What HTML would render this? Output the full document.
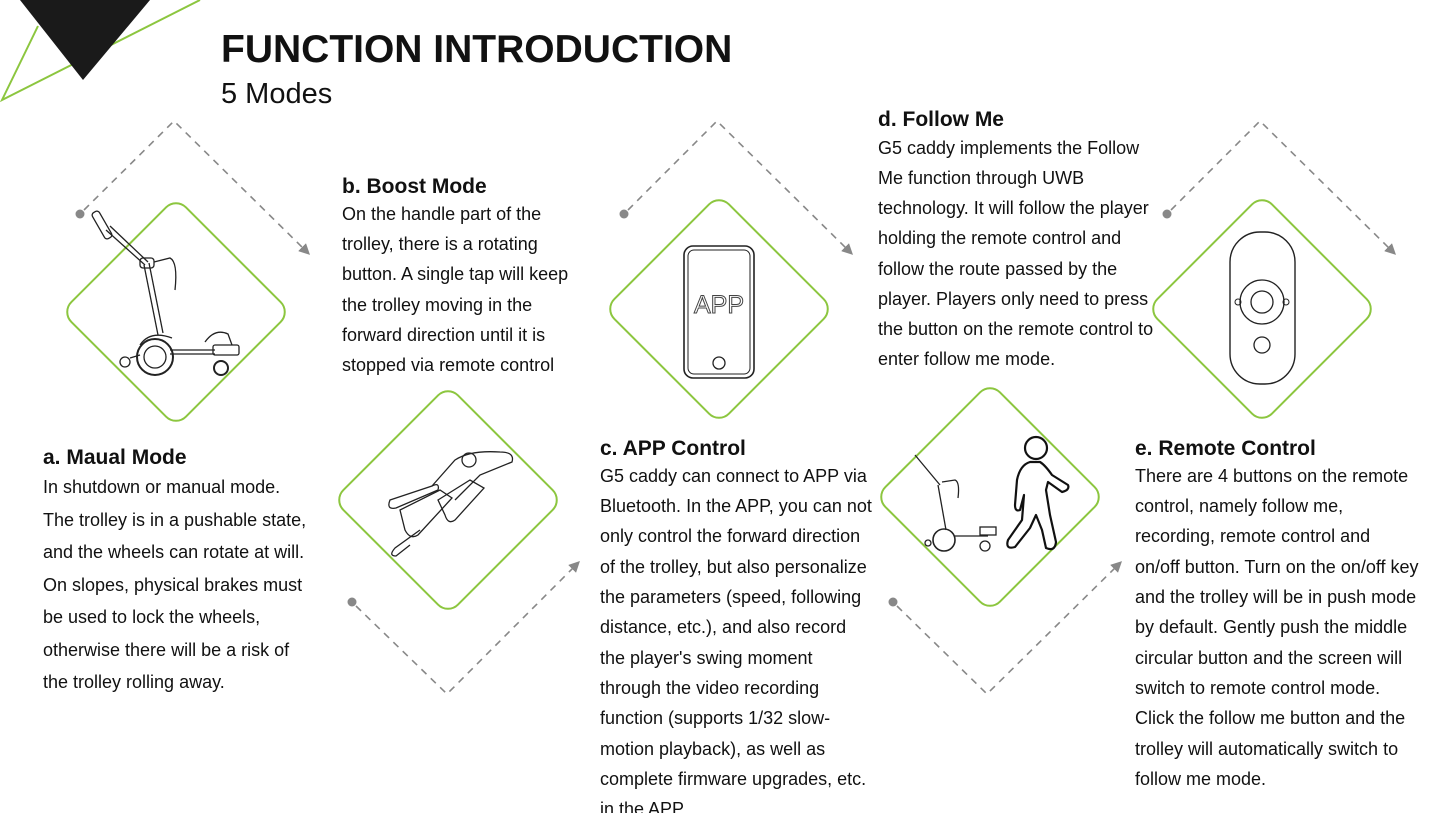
<!DOCTYPE html>
<html><head><meta charset="utf-8"><style>
html,body{margin:0;padding:0;background:#fff;}
svg{display:block;}
text{font-family:"Liberation Sans",Arial,sans-serif;fill:#111;}
.h{font-size:21px;font-weight:bold;}
.b{font-size:18px;}
.dg{fill:none;stroke:#8cc63f;stroke-width:2;}
.ds{fill:none;stroke:#888;stroke-width:1.6;stroke-dasharray:7 6;}
.ln{fill:none;stroke:#222;stroke-width:1.3;}
</style></head><body>
<svg width="1445" height="813" viewBox="0 0 1445 813">
<defs>
<marker id="ar" viewBox="0 0 10 10" refX="5" refY="5" markerWidth="7" markerHeight="7" orient="auto"><path d="M0,0 L10,5 L0,10 z" fill="#888"/></marker>
</defs>
<polyline points="200,0 2,100 38,26" fill="none" stroke="#8cc63f" stroke-width="2"/>
<polygon points="20,0 150,0 83,80" fill="#1a1a1a"/>
<text x="221" y="62" style="font-size:39px;font-weight:bold">FUNCTION INTRODUCTION</text>
<text x="221" y="103" style="font-size:29px">5 Modes</text>

<rect class="dg" x="95" y="231" width="162" height="162" rx="14" transform="rotate(45 176 312)"/>
<rect class="dg" x="367" y="419" width="162" height="162" rx="14" transform="rotate(45 448 500)"/>
<rect class="dg" x="638" y="228" width="162" height="162" rx="14" transform="rotate(45 719 309)"/>
<rect class="dg" x="909" y="416" width="162" height="162" rx="14" transform="rotate(45 990 497)"/>
<rect class="dg" x="1181" y="228" width="162" height="162" rx="14" transform="rotate(45 1262 309)"/>

<circle cx="80" cy="214" r="4.5" fill="#888"/>
<polyline class="ds" points="84,210 174,121 306,251" marker-end="url(#ar)"/>
<circle cx="352" cy="602" r="4.5" fill="#888"/>
<polyline class="ds" points="356,606 447,694 576,565" marker-end="url(#ar)"/>
<circle cx="624" cy="214" r="4.5" fill="#888"/>
<polyline class="ds" points="628,210 717,121 849,251" marker-end="url(#ar)"/>
<circle cx="893" cy="602" r="4.5" fill="#888"/>
<polyline class="ds" points="897,606 987,694 1118,565" marker-end="url(#ar)"/>
<circle cx="1167" cy="214" r="4.5" fill="#888"/>
<polyline class="ds" points="1171,210 1260,121 1392,251" marker-end="url(#ar)"/>

<g class="ln">
<rect x="98" y="210" width="8" height="30" rx="3" transform="rotate(-30 102 225)"/>
<line x1="106" y1="230" x2="145" y2="265"/><line x1="110" y1="226" x2="148" y2="262"/>
<line x1="144" y1="265" x2="158" y2="335"/><line x1="149" y1="263" x2="163" y2="333"/>
<rect x="140" y="258" width="14" height="10" rx="3"/>
<path d="M154 262 L170 258 Q178 262 175 290"/>
<circle cx="155" cy="357" r="18" stroke-width="2"/><circle cx="155" cy="357" r="11"/>
<path d="M140 345 Q150 330 172 338"/>
<line x1="170" y1="350" x2="215" y2="350"/><line x1="170" y1="354" x2="215" y2="354"/>
<circle cx="221" cy="368" r="7" stroke-width="2"/>
<rect x="213" y="345" width="26" height="10" rx="2"/>
<path d="M205 342 Q215 328 228 334 L232 345"/>
<circle cx="125" cy="362" r="5"/><line x1="130" y1="358" x2="140" y2="355"/>
</g>

<g class="ln">
<path d="M390 500 L432 486 Q440 482 438 490 L396 508 Q386 510 390 500z"/>
<path d="M432 486 L455 460 Q470 450 500 452 Q515 452 512 462 L480 475 L455 500"/>
<circle cx="469" cy="460" r="7"/>
<path d="M400 510 L440 490 L452 498 L418 535 Q410 540 405 530z"/>
<path d="M438 500 L470 480 L484 488 L455 520 Q448 525 445 515z"/>
<path d="M420 530 L395 548 Q388 556 396 556 L410 545"/>
</g>

<rect x="684" y="246" width="70" height="132" rx="9" fill="none" stroke="#222" stroke-width="1.6"/>
<rect x="688" y="250" width="62" height="124" rx="6" fill="none" stroke="#222" stroke-width="1"/>
<circle cx="719" cy="363" r="6" fill="none" stroke="#222" stroke-width="1.3"/>
<text x="719" y="313" text-anchor="middle" style="font-size:25px;fill:#fff;stroke:#444;stroke-width:1">APP</text>

<g class="ln" stroke-width="1">
<line x1="915" y1="455" x2="940" y2="485"/><line x1="938" y1="485" x2="946" y2="530"/>
<path d="M942 482 L955 480 Q960 482 958 498"/>
<circle cx="944" cy="540" r="11" stroke-width="1.6"/>
<line x1="955" y1="536" x2="988" y2="536"/><circle cx="985" cy="546" r="5"/>
<rect x="980" y="527" width="16" height="8"/><circle cx="928" cy="543" r="3"/>
</g>
<g fill="none" stroke="#111" stroke-width="2.2" stroke-linejoin="round">
<circle cx="1036" cy="448" r="11"/>
<path d="M1030 462 Q1020 465 1017 480 L1015 505 Q1015 512 1020 510 L1024 495 L1022 520 L1008 540 Q1005 550 1015 547 L1030 528 L1036 515 L1042 530 L1046 548 Q1055 552 1056 542 L1050 515 L1046 490 L1048 482 L1062 492 Q1070 490 1068 485 L1052 475 Q1045 465 1040 462 Z"/>
</g>

<rect x="1230" y="232" width="65" height="152" rx="30" fill="none" stroke="#222" stroke-width="1.4"/>
<circle cx="1262" cy="302" r="22" fill="none" stroke="#222" stroke-width="1.3"/>
<circle cx="1262" cy="302" r="11" fill="none" stroke="#222" stroke-width="1.3"/>
<circle cx="1238" cy="302" r="3" fill="none" stroke="#222"/>
<circle cx="1286" cy="302" r="3" fill="none" stroke="#222"/>
<circle cx="1262" cy="345" r="8" fill="none" stroke="#222" stroke-width="1.3"/>

<text class="h" x="43" y="464">a. Maual Mode</text>
<g class="b">
<text x="43" y="493">In shutdown or manual mode.</text>
<text x="43" y="526">The trolley is in a pushable state,</text>
<text x="43" y="558">and the wheels can rotate at will.</text>
<text x="43" y="591">On slopes, physical brakes must</text>
<text x="43" y="623">be used to lock the wheels,</text>
<text x="43" y="656">otherwise there will be a risk of</text>
<text x="43" y="688">the trolley rolling away.</text>
</g>
<text class="h" x="342" y="193">b. Boost Mode</text>
<g class="b">
<text x="342" y="220">On the handle part of the</text>
<text x="342" y="250">trolley, there is a rotating</text>
<text x="342" y="280">button. A single tap will keep</text>
<text x="342" y="311">the trolley moving in the</text>
<text x="342" y="341">forward direction until it is</text>
<text x="342" y="371">stopped via remote control</text>
</g>
<text class="h" x="600" y="455">c. APP Control</text>
<g class="b">
<text x="600" y="482">G5 caddy can connect to APP via</text>
<text x="600" y="512">Bluetooth. In the APP, you can not</text>
<text x="600" y="542">only control the forward direction</text>
<text x="600" y="573">of the trolley, but also personalize</text>
<text x="600" y="603">the parameters (speed, following</text>
<text x="600" y="633">distance, etc.), and also record</text>
<text x="600" y="664">the player's swing moment</text>
<text x="600" y="694">through the video recording</text>
<text x="600" y="724">function (supports 1/32 slow-</text>
<text x="600" y="755">motion playback), as well as</text>
<text x="600" y="785">complete firmware upgrades, etc.</text>
<text x="600" y="815">in the APP.</text>
</g>
<text class="h" x="878" y="126">d. Follow Me</text>
<g class="b">
<text x="878" y="154">G5 caddy implements the Follow</text>
<text x="878" y="184">Me function through UWB</text>
<text x="878" y="214">technology. It will follow the player</text>
<text x="878" y="244">holding the remote control and</text>
<text x="878" y="275">follow the route passed by the</text>
<text x="878" y="305">player. Players only need to press</text>
<text x="878" y="335">the button on the remote control to</text>
<text x="878" y="365">enter follow me mode.</text>
</g>
<text class="h" x="1135" y="455">e. Remote Control</text>
<g class="b">
<text x="1135" y="482">There are 4 buttons on the remote</text>
<text x="1135" y="512">control, namely follow me,</text>
<text x="1135" y="542">recording, remote control and</text>
<text x="1135" y="573">on/off button. Turn on the on/off key</text>
<text x="1135" y="603">and the trolley will be in push mode</text>
<text x="1135" y="633">by default. Gently push the middle</text>
<text x="1135" y="664">circular button and the screen will</text>
<text x="1135" y="694">switch to remote control mode.</text>
<text x="1135" y="724">Click the follow me button and the</text>
<text x="1135" y="755">trolley will automatically switch to</text>
<text x="1135" y="785">follow me mode.</text>
</g>
</svg>
</body></html>
